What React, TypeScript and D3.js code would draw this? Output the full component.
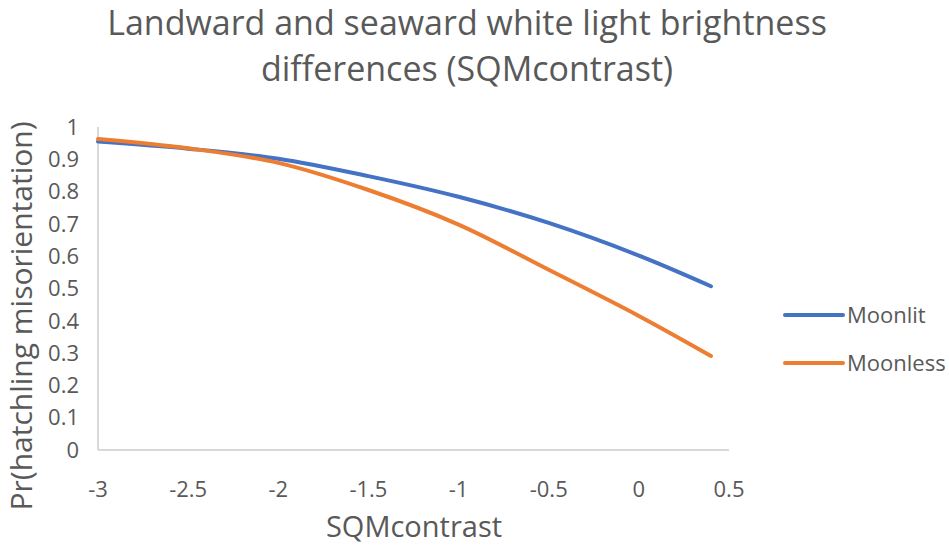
import * as d3 from "d3";

const xValues = [-3, -2.5, -2, -1.5, -1, -0.5, 0, 0.4];
const moonlit = [0.955, 0.933, 0.902, 0.848, 0.784, 0.703, 0.602, 0.507];
const moonless = [0.963, 0.934, 0.889, 0.805, 0.698, 0.558, 0.415, 0.291];
const xTicks = [-3, -2.5, -2, -1.5, -1, -0.5, 0, 0.5];
const yTicks = [0, 0.1, 0.2, 0.3, 0.4, 0.5, 0.6, 0.7, 0.8, 0.9, 1];
const seriesNames = ["Moonlit", "Moonless"];
const seriesColors = ["#4472C4", "#ED7D31"];

const W = 949;
const H = 546;
const FONT = "Open Sans, sans-serif";
const TEXT = "#595959";

export default function App() {
  const x = d3.scaleLinear().domain([-3, 0.5]).range([98, 729]);
  const y = d3.scaleLinear().domain([0, 1]).range([450, 127]);

  const line = d3
    .line<[number, number]>()
    .x((d) => x(d[0]))
    .y((d) => y(d[1]))
    .curve(d3.curveCatmullRom.alpha(0.5));

  const series = [moonlit, moonless].map((vals) =>
    xValues.map((xv, i) => [xv, vals[i]] as [number, number])
  );

  return (
    <svg
      width={W}
      height={H}
      style={{ position: "absolute", left: 0, top: 0, background: "#fff" }}
      fontFamily={FONT}
    >
      {/* Titre */}
      <text x={467} y={35} textAnchor="middle" fontSize={34} fill={TEXT}>
        Landward and seaward white light brightness
      </text>
      <text x={467} y={81} textAnchor="middle" fontSize={34} fill={TEXT}>
        differences (SQMcontrast)
      </text>

      {/* Axes */}
      <line x1={x(-3)} x2={x(-3)} y1={y(1)} y2={y(0)} stroke="#d9d9d9" strokeWidth={2} />
      <line x1={x(-3)} x2={x(0.5)} y1={y(0)} y2={y(0)} stroke="#d9d9d9" strokeWidth={2} />

      {yTicks.map((t) => (
        <text
          key={t}
          x={79}
          y={y(t)}
          dy="0.35em"
          textAnchor="end"
          fontSize={22}
          fill={TEXT}
        >
          {d3.format("~g")(t)}
        </text>
      ))}

      {xTicks.map((t) => (
        <text
          key={t}
          x={x(t)}
          y={497}
          textAnchor="middle"
          fontSize={22}
          fill={TEXT}
        >
          {d3.format("~g")(t).replace("−", "-")}
        </text>
      ))}

      {/* Titres d'axes */}
      <text
        transform={`translate(32,316) rotate(-90)`}
        textAnchor="middle"
        fontSize={30}
        fill={TEXT}
      >
        Pr(hatchling misorientation)
      </text>
      <text x={414} y={537} textAnchor="middle" fontSize={29} fill={TEXT}>
        SQMcontrast
      </text>

      {/* Courbes */}
      {series.map((s, i) => (
        <path
          key={seriesNames[i]}
          d={line(s) || ""}
          fill="none"
          stroke={seriesColors[i]}
          strokeWidth={4}
          strokeLinecap="round"
        />
      ))}

      {/* Légende */}
      {seriesNames.map((name, i) => (
        <g key={name} transform={`translate(785,${315 + i * 48})`}>
          <line x1={0} x2={58} y1={0} y2={0} stroke={seriesColors[i]} strokeWidth={4} strokeLinecap="round" />
          <text x={62} y={0} dy="0.35em" fontSize={22} fill={TEXT}>
            {name}
          </text>
        </g>
      ))}
    </svg>
  );
}
